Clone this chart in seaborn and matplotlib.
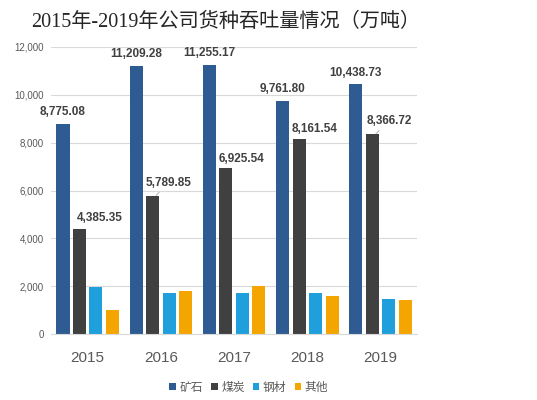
import matplotlib
matplotlib.use("Agg")
import matplotlib.pyplot as plt
import seaborn as sns
import pandas as pd

# 数据
years = ["2015", "2016", "2017", "2018", "2019"]
cargo_types = ["矿石", "煤炭", "钢材", "其他"]
ore = [8775.08, 11209.28, 11255.17, 9761.80, 10438.73]
coal = [4385.35, 5789.85, 6925.54, 8161.54, 8366.72]
steel = [1970, 1700, 1700, 1720, 1445]
other = [1000, 1810, 2000, 1600, 1420]
colors = ["#2E5C92", "#404040", "#1FA0DC", "#F5A500"]

df = pd.DataFrame({
    "年份": years * 4,
    "货种": [c for c in cargo_types for _ in years],
    "吞吐量": ore + coal + steel + other,
})

sns.set_style("white")
plt.rcParams['font.family'] = ['Liberation Sans', 'Noto Sans CJK SC', 'DejaVu Sans']
plt.rcParams['axes.unicode_minus'] = False

fig = plt.figure(figsize=(5.37, 4.0), dpi=100)
ax = fig.add_axes([0.095, 0.165, 0.682, 0.7175])

sns.barplot(data=df, x="年份", y="吞吐量", hue="货种", palette=colors,
            width=0.9, gap=0.2, saturation=1, linewidth=0, ax=ax, legend=True)

ax.set_ylim(0, 12000)
ax.set_yticks(range(0, 12001, 2000))
ax.set_yticklabels([f"{v:,}" for v in range(0, 12001, 2000)],
                   fontsize=7, color="#595959")
ax.tick_params(axis="x", labelsize=11, colors="#595959", length=0, pad=12)
ax.tick_params(axis="y", length=0, pad=5)
ax.set_xlabel("")
ax.set_ylabel("")
ax.grid(axis="y", color="#D9D9D9", linewidth=0.8)
ax.set_axisbelow(True)
for s in ["top", "right", "left"]:
    ax.spines[s].set_visible(False)
ax.spines["bottom"].set_color("#D9D9D9")
ax.spines["bottom"].set_linewidth(0.8)

# 数据标签（矿石、煤炭）
ore_bars = ax.containers[0]
coal_bars = ax.containers[1]
for rect, v in zip(ore_bars, ore):
    ax.annotate(f"{v:,.2f}", (rect.get_x() + rect.get_width() / 2, rect.get_height()),
                xytext=(0, 8.5), textcoords="offset points", ha="center", va="center",
                fontsize=8.5, fontweight="bold", color="#404040")
coal_offsets = [(12, 8), (9, 9), (9, 7), (9, 7), (10, 9)]
leader = [False, True, False, False, True]
for rect, v, off, ld in zip(coal_bars, coal, coal_offsets, leader):
    kw = {}
    if ld:
        kw["arrowprops"] = dict(arrowstyle="-", color="#A6A6A6", lw=0.6,
                                shrinkA=4, shrinkB=0)
    ax.annotate(f"{v:,.2f}", (rect.get_x() + rect.get_width() * 0.75, rect.get_height()),
                xytext=off, textcoords="offset points", ha="center", va="center",
                fontsize=8.5, fontweight="bold", color="#404040", **kw)

leg = ax.legend(loc="center", bbox_to_anchor=(0.54, -0.185), ncol=4, frameon=False,
                handlelength=0.55, handleheight=0.55, handletextpad=0.3,
                columnspacing=0.7, prop={'family': ['Noto Sans CJK SC'], 'size': 8.5})
for t in leg.get_texts():
    t.set_color("#595959")

fig.text(0.42, 0.945, "2015年-2019年公司货种吞吐量情况（万吨）", ha="center", va="center",
         fontsize=14.5, color="#262626", family=['Liberation Serif', 'Noto Sans CJK SC'])

fig.savefig("out.png", dpi=100)
